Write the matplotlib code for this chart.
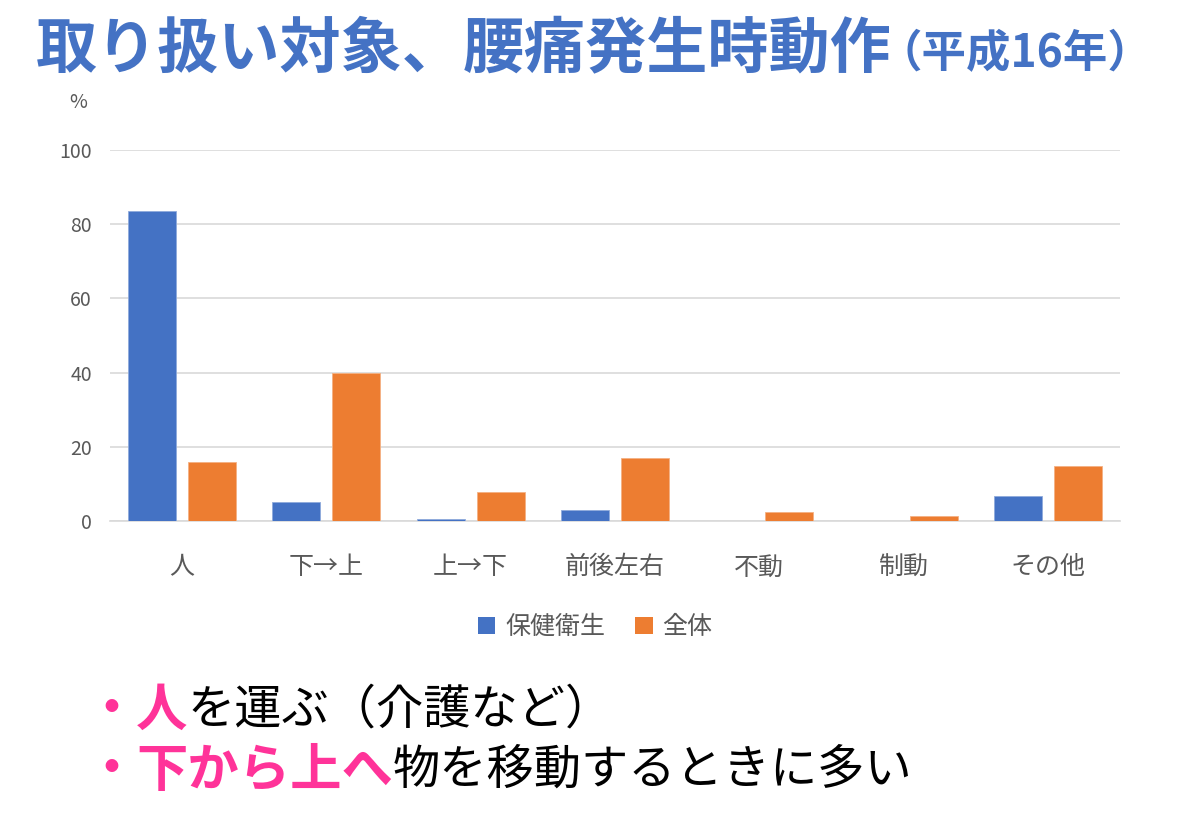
import matplotlib
matplotlib.use("Agg")
import matplotlib.pyplot as plt
from matplotlib.patches import Patch
import numpy as np

plt.rcParams['font.family'] = ['Noto Sans CJK JP', 'DejaVu Sans']

categories = ['人', '下→上', '上→下', '前後左右', '不動', '制動', 'その他']
hoken = [83.5, 5.2, 0.5, 2.9, 0.0, 0.0, 6.8]      # 保健衛生
zentai = [16.0, 39.8, 7.7, 17.0, 2.5, 1.35, 14.7]  # 全体
series_names = ['保健衛生', '全体']
yticks = [0, 20, 40, 60, 80, 100]

BLUE = '#4472C4'
ORANGE = '#ED7D31'
PINK = '#FF3399'
GRAY = '#595959'
W, H = 1200, 838


def put_runs(fig, x, y, runs):
    # draw text pieces one after another on the same line
    r = fig.canvas.get_renderer()
    for text, color, weight, size in runs:
        t = fig.text(x / W, 1 - y / H, text, color=color, fontsize=size,
                     fontweight=weight, ha='left', va='center')
        bb = t.get_window_extent(renderer=r)
        x = bb.x1
    return x


def main():
    fig = plt.figure(figsize=(12, 8.38), dpi=100)
    ax = fig.add_axes([110 / W, 1 - 521 / H, 1010 / W, 371 / H])

    x = np.arange(len(categories))
    ax.bar(x - 0.208, hoken, width=0.333, color=BLUE, edgecolor='#8FAADC', linewidth=0.6, zorder=3)
    ax.bar(x + 0.208, zentai, width=0.333, color=ORANGE, edgecolor='#F4B183', linewidth=0.6, zorder=3)

    ax.set_xlim(-0.5, len(categories) - 0.5)
    ax.set_ylim(0, 100)
    ax.set_yticks(yticks)
    ax.set_xticks(x)
    ax.set_xticklabels(categories)
    ax.grid(axis='y', color='#D9D9D9', linewidth=1.2, zorder=0)
    for s in ['top', 'right', 'left']:
        ax.spines[s].set_visible(False)
    ax.spines['bottom'].set_color('#D9D9D9')
    ax.spines['bottom'].set_linewidth(1.2)
    ax.tick_params(axis='both', length=0, colors=GRAY)
    ax.tick_params(axis='y', labelsize=14, pad=13)
    ax.tick_params(axis='x', labelsize=18, pad=24)

    fig.text(78 / W, 1 - 103 / H, '%', color=GRAY, fontsize=14, ha='center', va='center')

    handles = [Patch(facecolor=BLUE), Patch(facecolor=ORANGE)]
    fig.legend(handles, series_names, loc='center', bbox_to_anchor=(595 / W, 1 - 627 / H),
               ncol=2, frameon=False, fontsize=18, labelcolor=GRAY,
               handlelength=0.7, handleheight=0.7, handletextpad=0.4, columnspacing=1.2)

    fig.canvas.draw()
    end = put_runs(fig, 36, 50, [('取り扱い対象、腰痛発生時動作', BLUE, 'bold', 44)])
    put_runs(fig, end - 14, 54, [('（平成16年）', BLUE, 'bold', 32)])

    put_runs(fig, 86, 710, [('・', PINK, 'bold', 36), ('人', PINK, 'bold', 37),
                            ('を運ぶ（介護など）', 'black', 'normal', 34)])
    put_runs(fig, 86, 770, [('・', PINK, 'bold', 36), ('下から上へ', PINK, 'bold', 37),
                            ('物を移動するときに多い', 'black', 'normal', 34)])

    fig.savefig('out.png', dpi=100)


if __name__ == '__main__':
    main()
